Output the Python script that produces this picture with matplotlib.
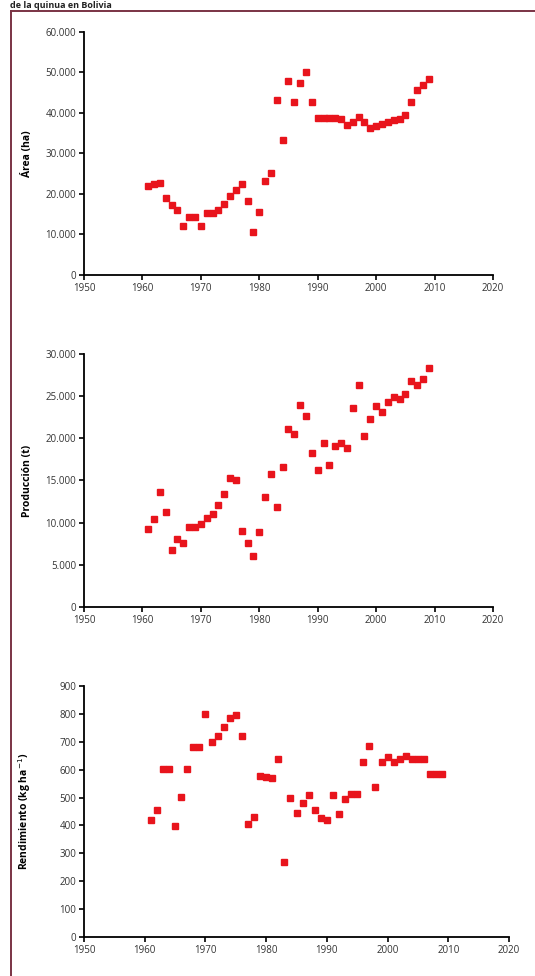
import numpy as np
import matplotlib.pyplot as plt
from matplotlib.lines import Line2D
from matplotlib.ticker import FuncFormatter

# Datos de la quinua en Bolivia
anios = np.arange(1961, 2010)

area = [22.0, 22.4, 22.8, 18.9, 17.3, 16.0, 12.2, 14.4, 14.4, 12.2,
        15.2, 15.2, 16.0, 17.5, 19.6, 21.0, 22.4, 18.2, 10.6, 15.6,
        23.2, 25.3, 43.1, 33.3, 47.8, 42.7, 47.5, 50.0, 42.7, 38.8,
        38.8, 38.8, 38.8, 38.6, 37.0, 37.8, 38.9, 37.8, 36.2, 36.8,
        37.2, 37.8, 38.2, 38.6, 39.4, 42.7, 45.6, 46.8, 48.5]
area = [v * 1000 for v in area]

produccion = [9.3, 10.4, 13.6, 11.3, 6.8, 8.1, 7.6, 9.5, 9.5, 9.8,
              10.6, 11.0, 12.1, 13.4, 15.3, 15.1, 9.0, 7.6, 6.1, 8.9,
              13.1, 15.8, 11.8, 16.6, 21.1, 20.5, 23.9, 22.6, 18.3, 16.2,
              19.5, 16.8, 19.1, 19.5, 18.8, 23.6, 26.3, 20.3, 22.3, 23.8,
              23.1, 24.3, 24.9, 24.7, 25.3, 26.8, 26.3, 27.0, 28.3]
produccion = [v * 1000 for v in produccion]

rendimiento = [419, 455, 601, 601, 399, 503, 602, 682, 682, 799,
               700, 720, 752, 784, 796, 720, 405, 431, 577, 574,
               571, 638, 269, 497, 443, 482, 509, 455, 428, 419,
               509, 440, 494, 511, 511, 628, 686, 539, 628, 644,
               628, 640, 649, 640, 638, 638, 586, 586, 586]

xticks = [1950, 1960, 1970, 1980, 1990, 2000, 2010, 2020]

plt.rcParams['font.family'] = ['Open Sans', 'DejaVu Sans']

W, H = 535, 976
fig = plt.figure(figsize=(W / 100, H / 100), dpi=100)

def px_axes(left, top, right, bottom):
    return fig.add_axes([left / W, 1 - bottom / H, (right - left) / W, (bottom - top) / H])

def miles(v, pos):
    return '{:,.0f}'.format(v).replace(',', '.')

paneles = [
    ((84, 32, 493, 275), area, 60000, 10000, 'Área (ha)', True),
    ((84, 354, 493, 607), produccion, 30000, 5000, 'Producción (t)', True),
    ((84, 686, 509, 937), rendimiento, 900, 100, 'Rendimiento (kg ha$^{-1}$)', False),
]

for caja, valores, ymax, paso, etiqueta, con_miles in paneles:
    ax = px_axes(*caja)
    ax.plot(anios, valores, linestyle='none', marker='s', ms=5,
            color='#e8141c', mec='#e8141c')
    ax.set_xlim(1950, 2020)
    ax.set_ylim(0, ymax)
    ax.set_xticks(xticks)
    ax.set_yticks(np.arange(0, ymax + 1, paso))
    if con_miles:
        ax.yaxis.set_major_formatter(FuncFormatter(miles))
    for lado in ['top', 'right']:
        ax.spines[lado].set_visible(False)
    for lado in ['left', 'bottom']:
        ax.spines[lado].set_linewidth(1.3)
    ax.tick_params(direction='out', length=3.5, width=1.2, labelsize=7,
                   labelcolor='#333333', pad=2)
    ax.set_ylabel(etiqueta, fontsize=7.5, fontweight='bold')
    ancho = caja[2] - caja[0]
    ax.yaxis.set_label_coords(-(84 - 33) / ancho, 0.5)

# Marco del recuadro
fig.add_artist(Line2D([11 / W, 1], [1 - 11 / H, 1 - 11 / H], color='#7a3344', lw=1.4))
fig.add_artist(Line2D([11 / W, 11 / W], [1 - 11 / H, 0], color='#7a3344', lw=1.4))

# Título en el borde superior
fig.text(10 / W, 1 - 7.5 / H, 'de la quinua en Bolivia', fontsize=6.5,
         fontweight='bold', va='baseline', ha='left', color='#222222')

fig.savefig('out.png', dpi=100)
